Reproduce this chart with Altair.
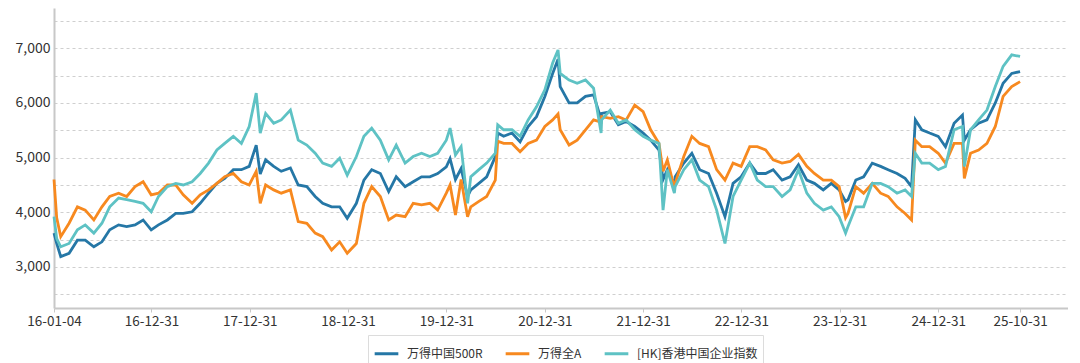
import altair as alt
import pandas as pd

dates = [
    "2016-01-04", "2016-01-14", "2016-01-29", "2016-02-29", "2016-03-31", "2016-04-29", "2016-05-31",
    "2016-06-30", "2016-07-29", "2016-08-31", "2016-09-30", "2016-10-31", "2016-11-30", "2016-12-30",
    "2017-01-26", "2017-02-28", "2017-03-31", "2017-04-28", "2017-05-31", "2017-06-30", "2017-07-31",
    "2017-08-31", "2017-09-29", "2017-10-31", "2017-11-30", "2017-12-29", "2018-01-24", "2018-02-08",
    "2018-02-28", "2018-03-30", "2018-04-27", "2018-05-31", "2018-06-29", "2018-07-31", "2018-08-31",
    "2018-09-28", "2018-10-31", "2018-11-30", "2018-12-28", "2019-01-31", "2019-02-28", "2019-03-29",
    "2019-04-30", "2019-05-31", "2019-06-28", "2019-07-31", "2019-08-30", "2019-09-30", "2019-10-31",
    "2019-11-29", "2019-12-31", "2020-01-14", "2020-02-03", "2020-02-24", "2020-03-19", "2020-03-31",
    "2020-04-30", "2020-05-29", "2020-06-30", "2020-07-09", "2020-07-31", "2020-08-31", "2020-09-30",
    "2020-10-30", "2020-11-30", "2020-12-31", "2021-01-29", "2021-02-18", "2021-02-26", "2021-03-31",
    "2021-04-30", "2021-05-31", "2021-06-30", "2021-07-28", "2021-07-30", "2021-08-31", "2021-09-30",
    "2021-10-29", "2021-11-30", "2021-12-31", "2022-01-28", "2022-02-28", "2022-03-15", "2022-03-31",
    "2022-04-26", "2022-04-29", "2022-05-31", "2022-06-30", "2022-07-29", "2022-08-31", "2022-09-30",
    "2022-10-31", "2022-11-30", "2022-12-30", "2023-01-31", "2023-02-28", "2023-03-31", "2023-04-28",
    "2023-05-31", "2023-06-30", "2023-07-31", "2023-08-31", "2023-09-28", "2023-10-31", "2023-11-30",
    "2023-12-29", "2024-01-22", "2024-01-31", "2024-02-29", "2024-03-29", "2024-04-30", "2024-05-31",
    "2024-06-28", "2024-07-31", "2024-08-30", "2024-09-23", "2024-10-07", "2024-10-31", "2024-11-29",
    "2024-12-31", "2025-01-27", "2025-02-28", "2025-03-31", "2025-04-07", "2025-04-30", "2025-05-30",
    "2025-06-30", "2025-07-31", "2025-08-29", "2025-09-30", "2025-10-31",
]

wind500r = [
    3620, 3430, 3190, 3250, 3490, 3490, 3370,
    3460, 3680, 3770, 3740, 3770, 3860, 3680,
    3770, 3860, 3980, 3980, 4010, 4165, 4350,
    4530, 4620, 4780, 4780, 4840, 5230, 4700,
    4960, 4840, 4750, 4810, 4500, 4470, 4290,
    4165, 4100, 4100, 3890, 4165, 4590, 4780,
    4710, 4380, 4650, 4470, 4560, 4650, 4650,
    4710, 4830, 4980, 4600, 4800, 4290, 4410,
    4530, 4650, 5020, 5450, 5390, 5450, 5290,
    5570, 5750, 6120, 6540, 6800, 6300, 6000,
    6000, 6120, 6150, 5700, 5810, 5840, 5600,
    5660, 5570, 5450, 5320, 5140, 4600, 4780,
    4500, 4650, 4900, 5080, 4780, 4710, 4350,
    3920, 4530, 4650, 4900, 4710, 4710, 4780,
    4590, 4650, 4870, 4590, 4530, 4410, 4530,
    4410, 4200, 4230, 4590, 4650, 4900, 4840,
    4780, 4710, 4620, 4470, 5690, 5510, 5450,
    5390, 5200, 5630, 5780, 5320, 5510, 5630,
    5690, 6000, 6360, 6540, 6575,
]

wind_all_a = [
    4600, 3900, 3555, 3800, 4100, 4040, 3860,
    4100, 4290, 4350, 4290, 4470, 4560, 4320,
    4350, 4500, 4500, 4320, 4165, 4320, 4410,
    4530, 4650, 4710, 4560, 4500, 4750, 4165,
    4500, 4410, 4350, 4410, 3830, 3800, 3620,
    3555, 3310, 3460, 3250, 3430, 4165, 4470,
    4290, 3860, 3950, 3920, 4165, 4135, 4165,
    4040, 4350, 4500, 3950, 4600, 3920, 4100,
    4200, 4290, 4590, 5300, 5260, 5260, 5110,
    5260, 5320, 5570, 5690, 5800, 5510, 5230,
    5320, 5510, 5690, 5650, 5750, 5720, 5750,
    5690, 5960, 5840, 5510, 5260, 4750, 4960,
    4450, 4530, 5020, 5390, 5260, 5200, 4780,
    4590, 4900, 4840, 5200, 5200, 5140, 4960,
    4900, 4930, 5060, 4840, 4710, 4590, 4590,
    4470, 3900, 3980, 4470, 4350, 4530, 4350,
    4290, 4100, 3980, 3860, 5320, 5200, 5200,
    5080, 4900, 5260, 5260, 4620, 5080, 5140,
    5260, 5570, 6120, 6300, 6390,
]

hk_china_ent = [
    3920, 3520, 3370, 3430, 3680, 3770, 3620,
    3800, 4100, 4260, 4230, 4200, 4165, 4010,
    4290, 4470, 4530, 4500, 4560, 4710, 4900,
    5140, 5260, 5390, 5260, 5570, 6180, 5450,
    5810, 5630, 5690, 5870, 5320, 5230, 5080,
    4900, 4840, 4990, 4680, 5020, 5390, 5540,
    5320, 4960, 5230, 4900, 5020, 5080, 5020,
    5080, 5320, 5540, 5050, 5200, 4165, 4650,
    4780, 4900, 5080, 5600, 5510, 5510, 5390,
    5690, 5930, 6240, 6730, 6970, 6540, 6420,
    6360, 6420, 6270, 5450, 5690, 5870, 5630,
    5690, 5510, 5390, 5320, 5260, 4040, 4780,
    4350, 4470, 4780, 4960, 4590, 4470, 4040,
    3430, 4290, 4590, 4900, 4590, 4470, 4470,
    4290, 4410, 4780, 4350, 4165, 4040, 4100,
    3920, 3620, 3740, 4100, 4100, 4530, 4530,
    4470, 4350, 4410, 4290, 5080, 4900, 4900,
    4780, 4840, 5510, 5570, 4840, 5510, 5690,
    5870, 6300, 6670, 6880, 6850,
]

series_names = ["万得中国500R", "万得全A", "[HK]香港中国企业指数"]
series_colors = ["#2577A6", "#F7891F", "#5EC2C4"]
tick_dates = ["2016-01-04", "2016-12-31", "2017-12-31", "2018-12-31", "2019-12-31",
              "2020-12-31", "2021-12-31", "2022-12-31", "2023-12-31", "2024-12-31", "2025-10-31"]
y_grid_values = [2500, 3000, 3500, 4000, 4500, 5000, 5500, 6000, 6500, 7000, 7500]


def ms(d):
    return int(pd.Timestamp(d, tz="UTC").value // 10**6)


frames = []
for name, vals in zip(series_names, [wind500r, wind_all_a, hk_china_ent]):
    frames.append(pd.DataFrame({"date": dates, "value": vals, "series": name}))
df = pd.concat(frames, ignore_index=True)

font = "Noto Sans CJK SC"

x_enc = alt.X(
    "date:T",
    scale=alt.Scale(type="utc", domain=[ms("2016-01-04"), ms("2026-04-27")]),
    axis=alt.Axis(
        values=[ms(d) for d in tick_dates],
        labelExpr="utcFormat(datum.value, '%y-%m-%d')",
        grid=False,
        title=None,
        domainColor="#c8c8c8",
        domainWidth=2,
        tickColor="#c8c8c8",
        tickSize=4,
        labelColor="#333333",
        labelFont=font,
        labelFontSize=13.5,
        labelPadding=2,
        labelOverlap=False,
        labelFlush=False,
    ),
)

y_enc = alt.Y(
    "value:Q",
    scale=alt.Scale(domain=[2250, 7737], nice=False, zero=False),
    axis=alt.Axis(
        values=y_grid_values,
        labelExpr="datum.value % 1000 == 0 ? format(datum.value, ',') : ''",
        grid=True,
        gridColor="#cfcfcf",
        gridDash=[3, 3],
        gridWidth=1,
        ticks=False,
        title=None,
        domainColor="#c8c8c8",
        domainWidth=2,
        labelColor="#333333",
        labelFont=font,
        labelFontSize=14,
        labelPadding=4,
    ),
)

color_enc = alt.Color(
    "series:N",
    scale=alt.Scale(domain=series_names, range=series_colors),
    legend=alt.Legend(
        title=None,
        orient="none",
        direction="horizontal",
        legendX=314,
        legendY=327,
        symbolType="stroke",
        symbolSize=560,
        symbolStrokeWidth=3,
        labelFont=font,
        labelFontSize=12,
        labelColor="#333333",
        labelOffset=7,
        columnPadding=16,
        strokeColor="#dcdcdc",
        padding=5,
    ),
)

layers = []
for name in series_names:
    layers.append(
        alt.Chart(df)
        .transform_filter(alt.datum.series == name)
        .mark_line(strokeWidth=2.8)
        .encode(x=x_enc, y=y_enc, color=color_enc)
    )

chart = (
    alt.layer(*layers)
    .properties(
        width=1014,
        height=300,
        autosize=alt.AutoSizeParams(type="none"),
        padding={"left": 46, "top": 0, "right": 0, "bottom": 55},
    )
    .configure_view(stroke=None)
)

chart.save("out.html", embed_options={"renderer": "svg", "actions": False})
